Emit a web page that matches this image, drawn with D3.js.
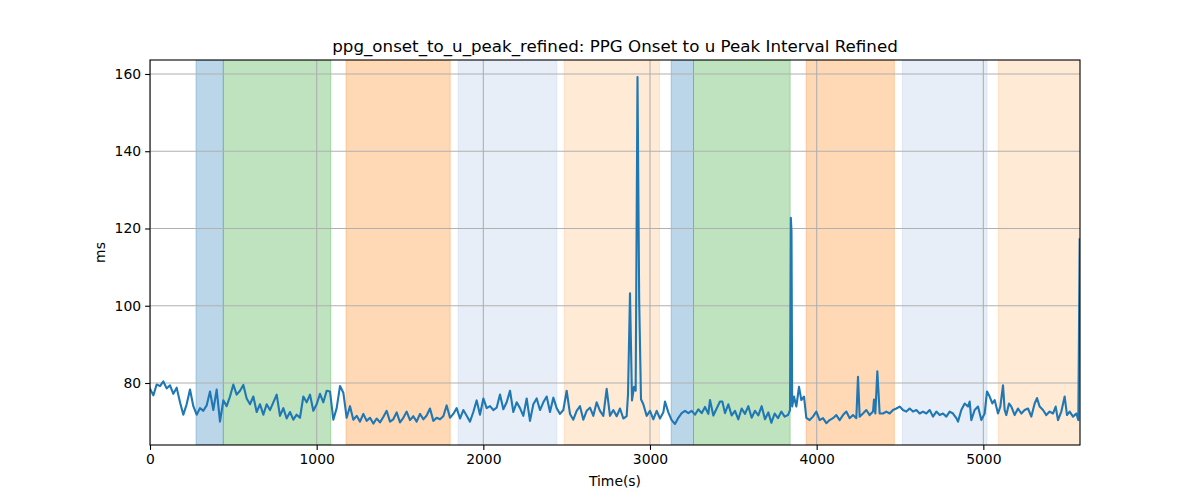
<!DOCTYPE html>
<html>
<head>
<meta charset="utf-8">
<script src="https://cdn.jsdelivr.net/npm/d3@7"></script>
<style>
  html, body { margin: 0; padding: 0; background: #fff; }
  svg { display: block; font-family: "DejaVu Sans", sans-serif; }
</style>
</head>
<body>
<svg id="chart" width="1200" height="500"></svg>
<script>
const titleText = "ppg_onset_to_u_peak_refined: PPG Onset to u Peak Interval Refined";
const xLabel = "Time(s)";
const yLabel = "ms";
const xTicks = [0, 1000, 2000, 3000, 4000, 5000];
const yTicks = [80, 100, 120, 140, 160];

const spanStarts = [276, 440, 1176, 1849, 2485, 3127, 3261, 3937, 4514, 5090];
const spanEnds   = [440, 1085, 1801, 2441, 3057, 3261, 3841, 4466, 5022, 5600];
const spanColors = ["#1f77b4", "#2ca02c", "#ff7f0e", "#aec7e8", "#ffbb78",
                    "#1f77b4", "#2ca02c", "#ff7f0e", "#aec7e8", "#ffbb78"];

// [time (s), interval (ms)]
const readings = [
  [0,78.5],[20,76.8],[40,79.6],[60,79.2],[80,80.4],[100,78.6],[120,79.4],[140,77.2],[160,78.8],[180,75.0],
  [200,71.8],[220,74.5],[240,78.3],[260,74.0],[280,71.8],[300,73.5],[320,72.8],[340,74.2],[360,77.8],[380,73.0],
  [400,78.3],[420,70.0],[440,75.5],[460,74.0],[480,76.5],[500,79.6],[520,77.0],[540,78.0],[560,79.5],[580,76.0],
  [600,74.5],[620,76.5],[640,72.5],[660,74.5],[680,71.8],[700,74.5],[720,73.0],[740,75.0],[760,77.0],[780,71.5],
  [800,73.5],[820,70.8],[840,72.5],[860,70.5],[880,71.8],[900,71.0],[920,76.5],[940,75.0],[960,77.0],[980,72.8],
  [1000,74.5],[1020,77.2],[1040,75.0],[1060,78.0],[1080,77.8],[1100,70.5],[1120,73.5],[1140,79.2],[1160,77.5],[1180,71.0],
  [1200,74.0],[1220,70.5],[1240,71.5],[1260,70.0],[1280,72.0],[1300,70.2],[1320,71.0],[1340,69.5],[1360,70.8],[1380,69.8],
  [1400,71.2],[1420,72.8],[1440,70.0],[1460,70.6],[1480,72.4],[1500,69.8],[1520,71.0],[1540,72.6],[1560,70.4],[1580,71.4],
  [1600,70.0],[1620,72.0],[1640,70.6],[1660,71.6],[1680,73.4],[1700,70.2],[1720,71.0],[1740,70.6],[1760,71.4],[1780,74.2],
  [1800,71.0],[1820,72.0],[1840,73.5],[1860,70.8],[1880,73.0],[1900,71.5],[1920,70.0],[1940,72.5],[1960,75.5],[1980,71.8],
  [2000,76.0],[2020,73.5],[2040,74.0],[2060,73.0],[2080,73.6],[2100,77.0],[2120,73.2],[2140,75.0],[2160,78.0],[2180,72.5],
  [2200,75.0],[2220,73.5],[2240,71.5],[2260,76.0],[2280,70.2],[2300,74.5],[2320,76.0],[2340,73.0],[2360,75.0],[2380,76.5],
  [2400,72.5],[2420,76.2],[2440,73.5],[2460,72.0],[2480,73.0],[2500,78.0],[2520,72.0],[2540,70.5],[2560,72.8],[2580,74.0],
  [2600,70.5],[2620,72.8],[2640,73.6],[2660,71.5],[2680,75.0],[2700,72.8],[2720,71.5],[2740,78.5],[2760,71.5],[2780,73.0],
  [2800,71.4],[2820,73.4],[2840,70.8],[2860,71.4],[2868,77.0],[2880,103.2],[2892,75.5],[2904,79.0],[2914,78.0],[2925,159.2],
  [2935,101.5],[2946,75.8],[2960,74.5],[2980,71.5],[3000,72.8],[3020,70.6],[3040,72.8],[3060,70.8],[3080,72.4],[3090,75.2],
  [3110,72.4],[3130,70.4],[3150,69.4],[3170,71.0],[3190,72.2],[3210,72.8],[3230,72.2],[3250,72.8],[3270,71.8],[3290,73.2],
  [3310,72.2],[3330,73.8],[3350,72.0],[3360,75.6],[3380,71.6],[3400,73.4],[3420,75.2],[3434,75.2],[3450,72.2],[3470,74.5],
  [3490,71.6],[3510,72.8],[3530,70.6],[3550,73.4],[3570,72.0],[3590,74.0],[3610,71.0],[3630,72.8],[3650,71.6],[3670,74.0],
  [3690,70.6],[3710,72.4],[3728,69.7],[3748,72.1],[3768,70.9],[3788,72.6],[3808,71.3],[3828,71.7],[3840,73.0],[3845,122.8],
  [3849,119.2],[3853,73.9],[3864,76.5],[3878,73.9],[3894,79.0],[3908,75.6],[3924,76.5],[3938,71.0],[3958,70.4],[3978,71.3],
  [3998,72.6],[4018,70.4],[4038,70.9],[4058,69.6],[4078,70.4],[4098,70.9],[4118,71.7],[4138,70.4],[4158,71.7],[4178,72.6],
  [4198,70.9],[4218,71.7],[4238,70.9],[4248,81.6],[4258,71.3],[4278,72.1],[4298,73.0],[4318,71.7],[4338,72.6],[4344,75.7],
  [4352,72.1],[4364,83.0],[4378,72.1],[4398,72.1],[4418,72.6],[4438,72.1],[4458,73.0],[4478,73.4],[4498,73.9],[4518,73.0],
  [4538,72.6],[4558,73.4],[4578,72.6],[4598,73.0],[4618,72.1],[4638,72.6],[4658,72.1],[4678,73.0],[4698,71.3],[4718,72.6],
  [4738,71.7],[4758,72.1],[4778,71.3],[4798,72.6],[4818,72.1],[4838,70.9],[4848,70.0],[4868,73.0],[4888,74.7],[4908,73.9],
  [4918,75.2],[4928,70.4],[4948,73.0],[4968,73.9],[4988,70.4],[5008,72.1],[5022,77.8],[5038,76.5],[5054,74.7],[5068,75.6],
  [5088,72.1],[5102,73.9],[5118,79.4],[5128,73.0],[5138,71.7],[5154,74.7],[5168,73.9],[5188,71.7],[5208,73.4],[5228,72.1],
  [5248,73.0],[5268,73.4],[5288,71.3],[5308,74.7],[5322,76.1],[5338,73.9],[5358,73.0],[5378,71.7],[5398,72.6],[5418,72.1],
  [5434,73.9],[5448,70.4],[5468,72.6],[5488,76.5],[5502,71.7],[5518,72.6],[5538,71.3],[5558,72.1],[5570,70.4],[5578,117.2]
];

const W = 1200, H = 500;
const margin = {left: 150, right: 120, top: 60, bottom: 55};
const iw = W - margin.left - margin.right;   // 930
const ih = H - margin.top - margin.bottom;   // 385

const svg = d3.select("#chart");
const x = d3.scaleLinear().domain([0, 5580]).range([0, iw]);
const y = d3.scaleLinear().domain([63.95, 163.62]).range([ih, 0]);

const g = svg.append("g").attr("transform", `translate(${margin.left},${margin.top})`);

g.append("defs").append("clipPath").attr("id", "clip")
  .append("rect").attr("width", iw).attr("height", ih);

const plot = g.append("g").attr("clip-path", "url(#clip)");

// shaded spans
const spans = spanStarts.map((s, i) => ({s, e: spanEnds[i], c: spanColors[i]}));
plot.selectAll("rect.span").data(spans).join("rect")
  .attr("class", "span")
  .attr("x", d => x(d.s)).attr("width", d => x(d.e) - x(d.s))
  .attr("y", 0).attr("height", ih)
  .attr("fill", d => d.c).attr("fill-opacity", 0.3)
  .attr("stroke", d => d.c).attr("stroke-opacity", 0.3).attr("stroke-width", 1);

// grid
plot.selectAll("line.vgrid").data(xTicks).join("line")
  .attr("x1", d => x(d)).attr("x2", d => x(d)).attr("y1", 0).attr("y2", ih)
  .attr("stroke", "#b0b0b0").attr("stroke-width", 1.1);
plot.selectAll("line.hgrid").data(yTicks).join("line")
  .attr("y1", d => y(d)).attr("y2", d => y(d)).attr("x1", 0).attr("x2", iw)
  .attr("stroke", "#b0b0b0").attr("stroke-width", 1.1);

// series line
const line = d3.line().x(d => x(d[0])).y(d => y(d[1]));
plot.append("path").datum(readings)
  .attr("d", line).attr("fill", "none")
  .attr("stroke", "#1f77b4").attr("stroke-width", 2.1)
  .attr("stroke-linejoin", "round").attr("stroke-linecap", "square");

// axes
const xAxis = d3.axisBottom(x).tickValues(xTicks).tickFormat(d3.format("d")).tickSize(4.9).tickPadding(4);
const yAxis = d3.axisLeft(y).tickValues(yTicks).tickFormat(d3.format("d")).tickSize(4.9).tickPadding(4);
const gx = g.append("g").attr("transform", `translate(0,${ih})`).call(xAxis);
const gy = g.append("g").call(yAxis);
[gx, gy].forEach(a => {
  a.select(".domain").remove();
  a.selectAll(".tick line").attr("stroke", "#000").attr("stroke-width", 1.1);
  a.selectAll(".tick text").attr("fill", "#000").style("font-size", "13.9px").style("font-family", "DejaVu Sans");
});

// frame
g.append("rect").attr("width", iw).attr("height", ih)
  .attr("fill", "none").attr("stroke", "#000").attr("stroke-width", 1.1);

// texts
svg.append("text").attr("x", margin.left + iw / 2).attr("y", 52)
  .attr("text-anchor", "middle").style("font-size", "16.7px").text(titleText);
svg.append("text").attr("x", margin.left + iw / 2).attr("y", 486)
  .attr("text-anchor", "middle").style("font-size", "13.9px").text(xLabel);
svg.append("text").attr("transform", `translate(105,${margin.top + ih / 2}) rotate(-90)`)
  .attr("text-anchor", "middle").style("font-size", "13.9px").text(yLabel);
</script>
</body>
</html>
